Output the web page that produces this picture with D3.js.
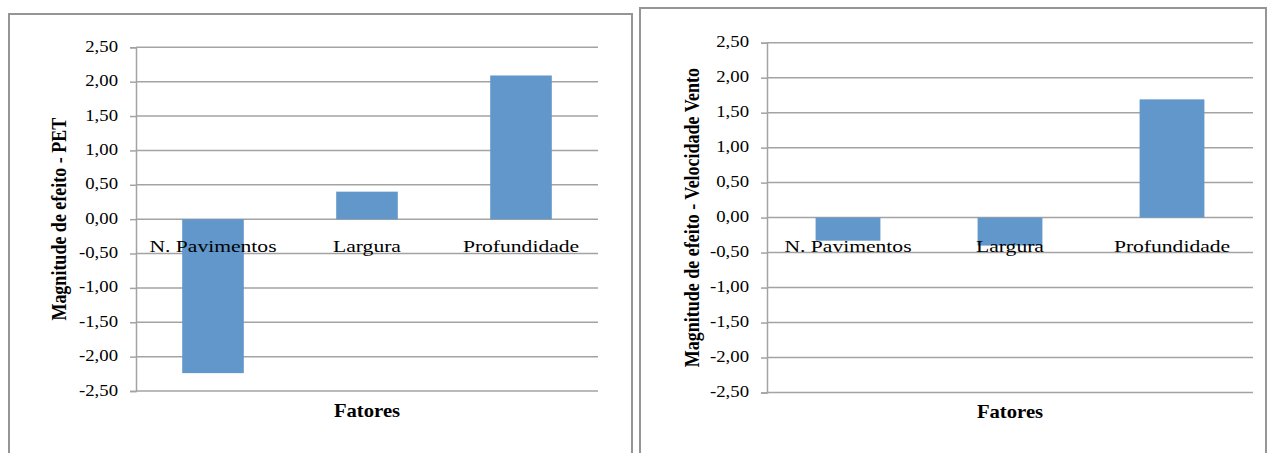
<!DOCTYPE html>
<html>
<head>
<meta charset="utf-8">
<script src="https://cdn.jsdelivr.net/npm/d3@7"></script>
<style>
  html, body { margin: 0; padding: 0; background: #fff; }
  svg { display: block; }
  text { font-family: "Liberation Serif", "Times New Roman", serif; fill: #000; }
</style>
</head>
<body>
<svg id="chart" width="1273" height="453"></svg>
<script>
// Factor names on the horizontal axis
const categories = ["N. Pavimentos", "Largura", "Profundidade"];
// Effect magnitudes on PET
const petEffects = [-2.24, 0.40, 2.09];
// Effect magnitudes on wind speed
const windEffects = [-0.33, -0.40, 1.69];
// Value axis ticks
const tickValues = [2.5, 2.0, 1.5, 1.0, 0.5, 0.0, -0.5, -1.0, -1.5, -2.0, -2.5];
const yTitles = ["Magnitude de efeito - PET", "Magnitude de efeito - Velocidade Vento"];
const xTitle = "Fatores";

const locale = d3.formatLocale({ decimal: ",", thousands: ".", grouping: [3], currency: ["", ""], minus: "-" });
const fmt = locale.format(".2f");

const barColor = "#6197cb";
const gridColor = "#a3a3a3";
const frameColor = "#959595";

const svg = d3.select("#chart");

const panels = [
  { values: petEffects, yTitle: yTitles[0],
    frame: { x: 9, y: 14, w: 623, h: 460 },
    plot: { left: 136, right: 598, top: 47.3, bottom: 391 },
    yTitleX: 66, xTitleY: 417, catY: 252 },
  { values: windEffects, yTitle: yTitles[1],
    frame: { x: 640, y: 8, w: 626, h: 470 },
    plot: { left: 767, right: 1253, top: 42.7, bottom: 392.5 },
    yTitleX: 699, xTitleY: 418, catY: 251.5 }
];

// Horizontally stretched text, anchored at (x, y)
function stretchedText(g, x, y, str, size, sx, weight) {
  return g.append("g").attr("transform", `translate(${x},${y}) scale(${sx},1)`)
    .append("text")
    .attr("text-anchor", "middle")
    .attr("font-size", size)
    .attr("font-weight", weight || "normal")
    .text(str);
}

panels.forEach(p => {
  const g = svg.append("g");

  g.append("rect")
    .attr("x", p.frame.x).attr("y", p.frame.y)
    .attr("width", p.frame.w).attr("height", p.frame.h)
    .attr("fill", "#fff").attr("stroke", frameColor).attr("stroke-width", 2);

  const x = d3.scaleBand().domain(categories)
    .range([p.plot.left, p.plot.right]).paddingInner(0.6).paddingOuter(0.3);
  const y = d3.scaleLinear().domain([-2.5, 2.5]).range([p.plot.bottom, p.plot.top]);

  // gridlines
  g.append("g").selectAll("line").data(tickValues).join("line")
    .attr("x1", p.plot.left).attr("x2", p.plot.right)
    .attr("y1", d => y(d)).attr("y2", d => y(d))
    .attr("stroke", gridColor).attr("stroke-width", 1.5);

  // value axis
  const yAxis = d3.axisLeft(y).tickValues(tickValues).tickSize(6).tickPadding(12).tickFormat(fmt);
  const ya = g.append("g").attr("transform", `translate(${p.plot.left},0)`).call(yAxis);
  ya.select(".domain").attr("stroke", gridColor).attr("stroke-width", 1.5);
  ya.selectAll(".tick line").attr("stroke", gridColor).attr("stroke-width", 1.5);
  ya.selectAll(".tick text").remove();
  ya.selectAll(".tick").each(function (d) {
    d3.select(this).append("g").attr("transform", "translate(-18,4) scale(1.17,1)")
      .append("text").attr("text-anchor", "end").attr("font-size", 16)
      .text(fmt(d));
  });

  // bars
  g.append("g").selectAll("rect").data(p.values).join("rect")
    .attr("x", (d, i) => x(categories[i]))
    .attr("width", x.bandwidth())
    .attr("y", d => y(Math.max(0, d)))
    .attr("height", d => Math.abs(y(d) - y(0)))
    .attr("fill", barColor);

  // category labels, drawn over the bars
  categories.forEach(c => {
    stretchedText(g, x(c) + x.bandwidth() / 2, p.catY, c, 17, 1.27);
  });

  // axis titles
  stretchedText(g, (p.plot.left + p.plot.right) / 2, p.xTitleY, xTitle, 18, 1.15, "bold");
  g.append("text")
    .attr("transform", `translate(${p.yTitleX},${(p.plot.top + p.plot.bottom) / 2}) scale(1.2,1) rotate(-90)`)
    .attr("text-anchor", "middle").attr("font-size", 18).attr("font-weight", "bold")
    .text(p.yTitle);
});
</script>
</body>
</html>
